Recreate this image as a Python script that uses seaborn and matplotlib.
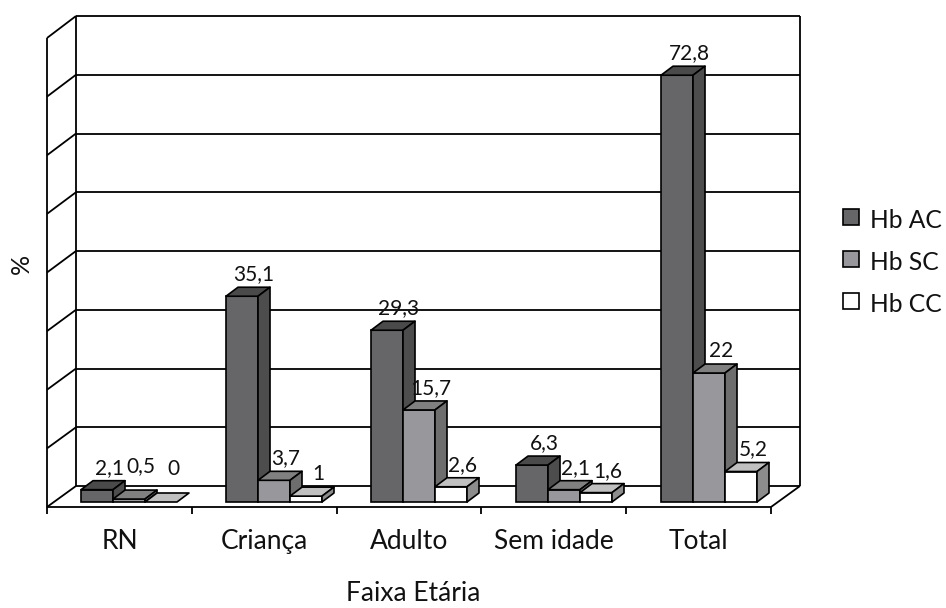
import matplotlib
matplotlib.use("Agg")
import matplotlib.pyplot as plt
from matplotlib.patches import Polygon, Rectangle
import seaborn as sns
import pandas as pd

# ---------------- data ----------------
categories = ["RN", "Criança", "Adulto", "Sem idade", "Total"]
series = ["Hb AC", "Hb SC", "Hb CC"]
hb_ac = [2.1, 35.1, 29.3, 6.3, 72.8]
hb_sc = [0.5, 3.7, 15.7, 2.1, 22]
hb_cc = [0, 1, 2.6, 1.6, 5.2]
labels_ac = ["2,1", "35,1", "29,3", "6,3", "72,8"]
labels_sc = ["0,5", "3,7", "15,7", "2,1", "22"]
labels_cc = ["0", "1", "2,6", "1,6", "5,2"]
x_title = "Faixa Etária"
y_title = "%"

# ---------------- style ----------------
sns.set_theme(style="white")
plt.rcParams["font.family"] = ["Lato", "DejaVu Sans"]

front_cols = ["#666669", "#98989c", "#ffffff"]
top_cols = ["#4a4a4a", "#808080", "#c0c0c0"]
side_cols = ["#4d4d4d", "#6e6e6e", "#8c8c8c"]

W, H = 946, 608
fig = plt.figure(figsize=(W / 100, H / 100), dpi=100)
ax = fig.add_axes([0, 0, 1, 1])

# pixel scale of the data axes
PX_X = 145.0      # pixels per category
PX_Y = 5.8625     # pixels per percent
X0_PX = 129.0     # pixel of category 0 (bar group centre)
Y0_PX = 502.0     # pixel row of value 0 for bar fronts
xmin = -X0_PX / PX_X
ymin = -(H - Y0_PX) / PX_Y


def P(px, py):
    """pixel (from top-left) -> data coordinates"""
    return xmin + px / PX_X, ymin + (H - py) / PX_Y


df = pd.DataFrame({
    "cat": categories * 3,
    "val": hb_ac + hb_sc + hb_cc,
    "hb": [s for s in series for _ in categories],
})

sns.barplot(data=df, x="cat", y="val", hue="hb", order=categories,
            hue_order=series, palette=front_cols, saturation=1,
            width=0.662, edgecolor="black", linewidth=1.2,
            errorbar=None, legend=False, ax=ax)

ax.set_xlim(xmin, xmin + W / PX_X)
ax.set_ylim(ymin, ymin + H / PX_Y)
ax.set_axis_off()

LW = 1.3
# ---------------- frame (walls / floor) ----------------
def line(p1, p2, z=1):
    a, b = P(*p1), P(*p2)
    ax.plot([a[0], b[0]], [a[1], b[1]], color="black", lw=LW, zorder=z,
            solid_capstyle="butt")

for k in range(9):
    yb = 486 - 58.75 * k
    yf = 507 - 58.625 * k
    line((76, yb), (800, yb))
    line((47, yf), (76, yb))
line((76, 16), (76, 486))
line((800, 16), (800, 486))
line((47, 38), (47, 507))
line((47, 507), (771, 507), z=10)
line((771, 507), (800, 486), z=10)
for i in range(6):
    xt = 47 + 144.8 * i
    line((xt, 507), (xt, 514), z=10)

# ---------------- 3D faces ----------------
ddx = 12 / PX_X
ddy = 9 / PX_Y
all_labels = [labels_ac, labels_sc, labels_cc]
for j, cont in enumerate(ax.containers):
    for i, p in enumerate(cont.patches):
        x0 = p.get_x()
        w = p.get_width()
        h = p.get_height()
        x1 = x0 + w
        z = 3 + j
        p.set_zorder(z)
        if h <= 0:
            p.set_visible(False)
        top = Polygon([(x0, h), (x1, h), (x1 + ddx, h + ddy), (x0 + ddx, h + ddy)],
                      closed=True, facecolor=top_cols[j], edgecolor="black",
                      lw=1.2, zorder=z, joinstyle="round")
        ax.add_patch(top)
        if h > 0:
            side = Polygon([(x1, 0), (x1, h), (x1 + ddx, h + ddy), (x1 + ddx, ddy)],
                           closed=True, facecolor=side_cols[j], edgecolor="black",
                           lw=1.2, zorder=z, joinstyle="round")
            ax.add_patch(side)
        lift = 16 if h > 1.5 or i > 0 else 27
        ax.text(x0 + w / 2 + 12 / PX_X, h + lift / PX_Y, all_labels[j][i],
                ha="center", va="baseline", fontsize=15, color="#111111",
                zorder=20)

# ---------------- axis texts ----------------
for i, c in enumerate(categories):
    tx, ty = P(119.5 + 144.8 * i, 549)
    ax.text(tx, ty, c, ha="center", va="baseline", fontsize=19, color="#111111")
tx, ty = P(413, 601)
ax.text(tx, ty, x_title, ha="center", va="baseline", fontsize=19, color="#111111")
tx, ty = P(21, 264)
ax.text(tx, ty, y_title, ha="center", va="center", rotation=90, fontsize=18,
        color="#111111")

# ---------------- legend ----------------
for j, s in enumerate(series):
    cy = 216.5 + 42 * j
    a = P(843, cy + 8)
    ax.add_patch(Rectangle(a, 16 / PX_X, 16 / PX_Y, facecolor=front_cols[j],
                           edgecolor="black", lw=1.2, zorder=5))
    tx, ty = P(870, cy + 11)
    ax.text(tx, ty, s, ha="left", va="baseline", fontsize=17.7, color="#111111")

fig.savefig("out.png", dpi=100)
